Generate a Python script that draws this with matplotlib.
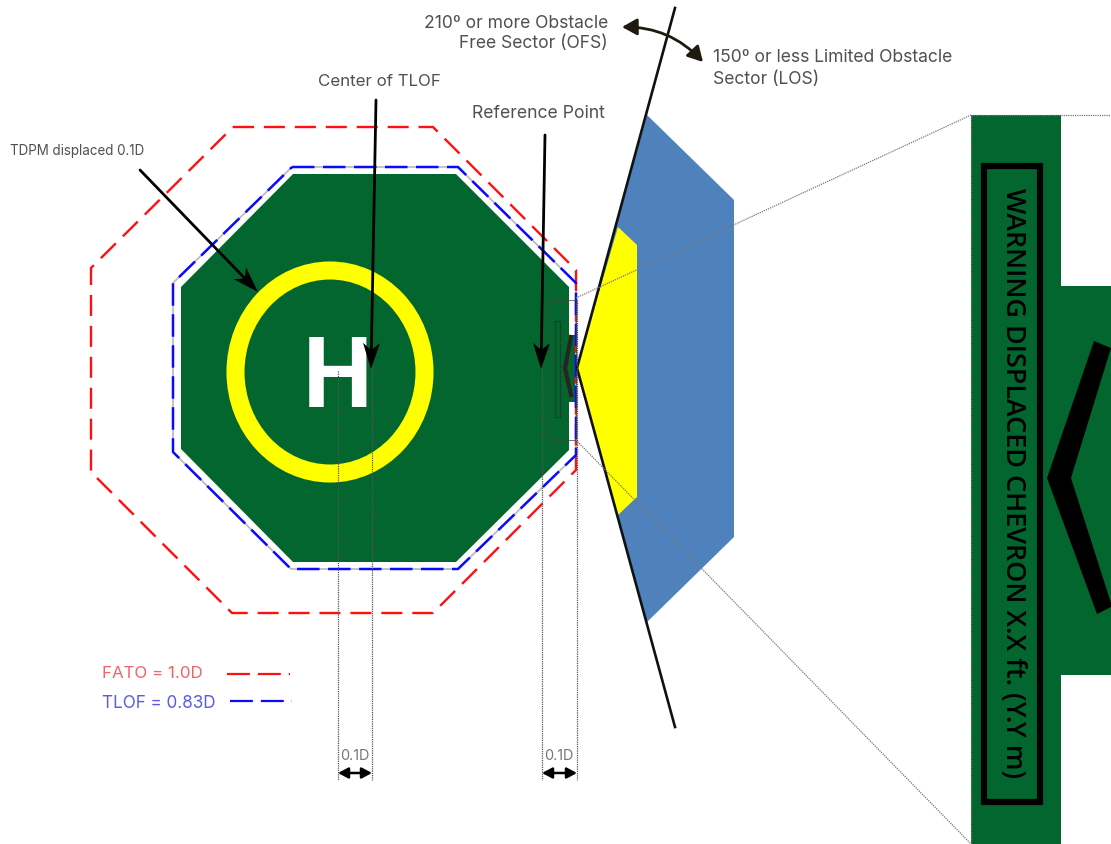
import matplotlib
matplotlib.use('Agg')
import matplotlib.pyplot as plt
import numpy as np
from matplotlib.patches import Polygon, Rectangle, Ellipse, FancyArrowPatch

plt.rcParams['font.family'] = ['Inter', 'DejaVu Sans']

# Shapes, in image pixels
fato_x = [233, 433, 576, 576, 433, 232, 91, 91, 233]
fato_y = [127, 127, 270, 470, 613, 613, 472, 268, 127]
tlof_x = [292, 458, 576, 576, 458, 291, 173, 173, 292]
tlof_y = [167, 167, 283, 455, 569, 569, 452, 283, 167]
pad_x = [293, 456, 569, 569, 575, 575, 569, 569, 456, 293, 181, 181]
pad_y = [174, 174, 287, 335, 335, 402, 402, 450, 562, 562, 449, 287]
los_x = [577, 647, 734, 734, 647]
los_y = [368, 115, 200, 537, 622]
inner_x = [577, 618, 637, 637, 618]
inner_y = [368, 227, 245, 497, 515]
sector_x = [675, 577, 675]
sector_y = [8, 368, 727]
inset_x = [971, 1061, 1061, 1111, 1111, 1061, 1061, 971]
inset_y = [115, 115, 286, 286, 675, 675, 844, 844]
chevron_x = [1094, 1111, 1111, 1071, 1111, 1111, 1097, 1047]
chevron_y = [341, 348, 348, 478, 603, 607, 614, 478]
small_chevron_x = [571, 565, 571]
small_chevron_y = [337, 368, 395]
guide_x = [338, 372, 542, 577]
guide_top = [371, 365, 368, 300]
guide_bottom = 780
leader_start = [(140, 170), (376, 100), (545, 135)]
leader_end = [(258, 292), (371, 369), (541, 369)]

GREEN = '#03662f'
TEXT = '#505050'
RED = '#ff1010'
BLUE = '#0a0aff'
FINE = (0, (1, 0.8))

fig = plt.figure(figsize=(11.11, 8.44), dpi=100)
ax = fig.add_axes([0, 0, 1, 1])
ax.set_xlim(0, 1111)
ax.set_ylim(844, 0)
ax.axis('off')

# Pad, then grey TLOF edge, red FATO and blue TLOF dashes
ax.add_patch(Polygon(list(zip(pad_x, pad_y)), closed=True, fc=GREEN, ec='none', zorder=2))
ax.plot(tlof_x, tlof_y, color='#bdbdbd', lw=1.3, zorder=3)
ax.plot(fato_x, fato_y, color=RED, lw=1.7, dashes=(8.9, 4.2), zorder=3)
ax.plot(tlof_x, tlof_y, color=BLUE, lw=1.8, dashes=(9, 3.4), zorder=3)

# Ring and H
ax.add_patch(Ellipse((330, 372), 189, 203, fc='none', ec='#ffff00', lw=13, zorder=4))
ax.text(338, 370, 'H', color='white', fontsize=71, fontweight='bold', ha='center',
        va='center_baseline', family='Roboto', zorder=5)

# Obstacle sectors
ax.add_patch(Polygon(list(zip(los_x, los_y)), closed=True, fc='#4f81bd', ec='none', zorder=2))
ax.add_patch(Polygon(list(zip(inner_x, inner_y)), closed=True, fc='#ffff00', ec='none', zorder=3))
ax.plot(sector_x, sector_y, color='#111111', lw=1.9, zorder=6)

# Sign on the pad edge
ax.add_patch(Rectangle((548, 300), 28, 140, fc='none', ec='#3a4a3a', lw=0.5, zorder=5))
ax.add_patch(Rectangle((555, 321), 5, 96, fc='none', ec='#2a2a2a', lw=1, ls=FINE, zorder=5))
ax.plot(small_chevron_x, small_chevron_y, color='#2b2320', lw=3, zorder=5)

# Guides down to the 0.1D dimensions and lines to the inset
for x, top in zip(guide_x, guide_top):
    ax.plot([x, x], [top, guide_bottom], color='#555555', lw=0.9, ls=FINE, zorder=6)
ax.plot([576, 971], [298, 115], color='#777777', lw=0.9, ls=FINE, zorder=6)
ax.plot([576, 971], [440, 844], color='#777777', lw=0.9, ls=FINE, zorder=6)

# Inset of the sign
ax.add_patch(Polygon(list(zip(inset_x, inset_y)), closed=True, fc=GREEN, ec='none', zorder=2))
ax.plot([971, 971, 1111], [844, 115, 115], color='#777777', lw=0.9, ls=FINE, zorder=6)
ax.add_patch(Rectangle((984, 166), 56, 636, fc='none', ec='black', lw=4.5, zorder=3))
ax.text(1013, 483, 'WARNING DISPLACED CHEVRON X.X ft. (Y.Y m)', color='black', fontsize=19.4,
        family='Open Sans', fontweight='semibold', rotation=-90, ha='center', va='center', zorder=4)
ax.add_patch(Polygon(list(zip(chevron_x, chevron_y)), closed=True, fc='black', ec='none', zorder=4))

# Leader arrows with swept heads
for start, end in zip(leader_start, leader_end):
    start, end = np.array(start, float), np.array(end, float)
    along = (end - start) / np.linalg.norm(end - start)
    side = np.array([-along[1], along[0]])
    ax.plot([start[0], (end - 10 * along)[0]], [start[1], (end - 10 * along)[1]],
            color='black', lw=2, solid_capstyle='round', zorder=7)
    head = [end, end - 26 * along + 8.5 * side, end - 19 * along, end - 26 * along - 8.5 * side]
    ax.add_patch(Polygon(head, closed=True, fc='black', ec='none', zorder=7))

# Sector arc and dimension arrows
ax.add_patch(FancyArrowPatch((622, 27), (703, 62), connectionstyle='arc3,rad=-0.22',
                             arrowstyle='<|-|>,head_length=9,head_width=5', color='#1f1a10', lw=2,
                             shrinkA=0, shrinkB=0, zorder=7))
for left, right in [(338, 372), (542, 577)]:
    ax.add_patch(FancyArrowPatch((left, 773), (right, 773), arrowstyle='<|-|>,head_length=6,head_width=3.2',
                                 color='black', lw=1.8, shrinkA=0, shrinkB=0, zorder=7))

# Labels
ax.text(10, 151, 'TDPM displaced 0.1D', color=TEXT, fontsize=9.7, va='center')
ax.text(318, 81, 'Center of TLOF', color=TEXT, fontsize=12.2, va='center')
ax.text(472, 113, 'Reference Point', color=TEXT, fontsize=12.7, va='center')
ax.text(608, 23, '210º or more Obstacle', color=TEXT, fontsize=12.6, ha='right', va='center')
ax.text(608, 44, 'Free Sector (OFS)', color=TEXT, fontsize=12.6, ha='right', va='center')
ax.text(713, 58, '150º or less Limited Obstacle', color=TEXT, fontsize=12.6, va='center')
ax.text(713, 79, 'Sector (LOS)', color=TEXT, fontsize=12.6, va='center')
ax.text(355, 756, '0.1D', color='#777777', fontsize=10.4, ha='center', va='center')
ax.text(559, 756, '0.1D', color='#777777', fontsize=10.4, ha='center', va='center')

# Legend
ax.text(102, 674, 'FATO = 1.0D', color='#f4606a', fontsize=12.2, va='center')
ax.text(102, 703, 'TLOF = 0.83D', color='#5a5ae6', fontsize=12.3, va='center')
ax.plot([227, 290], [674, 674], color=RED, lw=1.6, dashes=(10.3, 3.6))
ax.plot([230, 292], [701, 701], color=BLUE, lw=1.6, dashes=(10.3, 3.6))

fig.savefig('out.png', dpi=100, facecolor='white')
